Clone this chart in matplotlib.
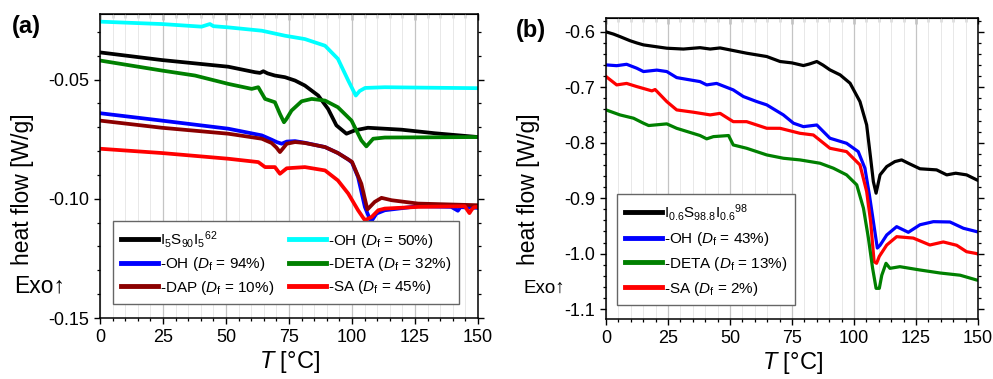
#!/usr/bin/env python3
"""DSC heat-flow curves, two panels: (a) I5S90I5 series, (b) I0.6S98.8I0.6 series."""

import matplotlib

matplotlib.use("Agg")

import matplotlib.pyplot as plt
from matplotlib.ticker import MultipleLocator

plt.rcParams["font.family"] = ["Liberation Sans", "DejaVu Sans"]
plt.rcParams["mathtext.fontset"] = "custom"
plt.rcParams["mathtext.rm"] = "Liberation Sans"
plt.rcParams["mathtext.it"] = "Liberation Sans:italic"
plt.rcParams["mathtext.bf"] = "Liberation Sans:bold"

# ---- panel (a) ----
A_T_BLACK = [0, 24.5, 50.9, 61.5, 63.5, 64.8, 66.5, 69.4, 73.4, 77.4, 81.3, 86.6, 90.5, 93.8,
             97.8, 101.1, 106.3, 119.6, 132.8, 150]
A_HF_BLACK = [-0.0386, -0.0418, -0.0446, -0.0469, -0.0472, -0.0465, -0.0474, -0.0483, -0.049,
              -0.0504, -0.0525, -0.0567, -0.0623, -0.0692, -0.0727, -0.0713, -0.0702, -0.071,
              -0.0725, -0.0741]

A_T_CYAN = [0, 24.5, 40.3, 43.6, 45, 50.9, 64.2, 73.4, 81.3, 89.3, 94.4, 98.5, 101.5, 103,
            105.2, 113, 130, 150]
A_HF_CYAN = [-0.0257, -0.0267, -0.0278, -0.0267, -0.0276, -0.0281, -0.0295, -0.0316, -0.033,
             -0.0358, -0.0413, -0.0504, -0.0567, -0.0548, -0.0535, -0.0532, -0.0534, -0.0536]

A_T_GREEN = [0, 24.5, 37.7, 50.9, 60.2, 62.8, 65.5, 69.4, 71.4, 73, 74, 76, 80, 84, 89.3, 94.4,
             99.8, 103.7, 105.7, 108.4, 113, 150]
A_HF_GREEN = [-0.042, -0.0462, -0.0483, -0.0518, -0.0539, -0.0532, -0.0581, -0.0595, -0.0644,
              -0.0679, -0.0665, -0.063, -0.0591, -0.0581, -0.0588, -0.0616, -0.0672, -0.0755,
              -0.078, -0.0748, -0.0743, -0.0741]

A_T_BLUE = [0, 24.5, 50.9, 64.2, 68.1, 70.1, 72.1, 74.1, 77.4, 81.3, 89.3, 94.4, 98.5, 100,
            102.4, 105.1, 107.5, 109.7, 113, 126.2, 139.4, 142, 143, 150]
A_HF_BLUE = [-0.0641, -0.0672, -0.0706, -0.0734, -0.0752, -0.0762, -0.0769, -0.076, -0.0758,
             -0.0765, -0.0783, -0.0808, -0.0835, -0.0848, -0.0909, -0.1034, -0.1097, -0.1062,
             -0.1048, -0.1031, -0.1034, -0.105, -0.1035, -0.1038]

A_T_BROWN = [0, 24.5, 50.9, 64.2, 68.1, 70, 71.4, 72.5, 74.1, 77.4, 81.3, 89.3, 94.4, 98.5, 100,
             103.7, 106.1, 109, 111.7, 115.7, 126.2, 150]
A_HF_BROWN = [-0.0672, -0.0702, -0.0727, -0.0748, -0.0766, -0.0785, -0.0804, -0.079, -0.0769,
              -0.0762, -0.0766, -0.0783, -0.0808, -0.0835, -0.0845, -0.0937, -0.1045, -0.1013,
              -0.0996, -0.1006, -0.102, -0.1027]

A_T_RED = [0, 24.5, 50.9, 62.8, 65.5, 69.4, 71.4, 74.1, 81.3, 89.3, 94.4, 98.5, 102.4, 105.1,
           107.8, 110.4, 113, 126.2, 144.7, 146.6, 147.5, 148.5, 150]
A_HF_RED = [-0.079, -0.0808, -0.0832, -0.0846, -0.0867, -0.0867, -0.0895, -0.0872, -0.0867,
            -0.0881, -0.0923, -0.0978, -0.1048, -0.109, -0.1076, -0.1048, -0.1041, -0.1034,
            -0.1031, -0.106, -0.1045, -0.1035, -0.1034]

A_LABELS = [
    r"I$_5$S$_{90}$I$_5$$^{62}$",
    r"-OH ($D_\mathrm{f}$ = 94%)",
    r"-DAP ($D_\mathrm{f}$ = 10%)",
    r"-OH ($D_\mathrm{f}$ = 50%)",
    r"-DETA ($D_\mathrm{f}$ = 32%)",
    r"-SA ($D_\mathrm{f}$ = 45%)",
]

# ---- panel (b) ----
B_T_BLACK = [0, 3, 5.6, 9.7, 12.4, 15.1, 19, 24.5, 31.2, 37.9, 42, 46, 51.3, 56.7, 64.8, 70.2,
             75, 79.6, 82, 85, 87.5, 90.3, 94.4, 98.4, 102.4, 105.1, 106.7, 107.8, 108.9, 110.5,
             113.2, 116.5, 119.2, 121.9, 126.6, 133.3, 137.4, 141, 145.4, 149.5, 150]
B_HF_BLACK = [-0.6, -0.604, -0.6085, -0.616, -0.62, -0.6235, -0.626, -0.6295, -0.631, -0.6285,
              -0.631, -0.629, -0.6337, -0.6385, -0.6445, -0.6535, -0.656, -0.6608, -0.658,
              -0.6535, -0.66, -0.6686, -0.6776, -0.6926, -0.7258, -0.7679, -0.828, -0.8702,
              -0.891, -0.858, -0.843, -0.834, -0.831, -0.837, -0.847, -0.849, -0.858, -0.855,
              -0.858, -0.867, -0.868]

B_T_BLUE = [0, 4.3, 8.3, 12.4, 15.1, 20.5, 24.5, 28.5, 33, 37.9, 40.6, 44.6, 51.3, 55.4, 60.8,
            64.8, 71.5, 75.6, 79.6, 85, 90.3, 97, 101.7, 104.4, 106.2, 107.8, 109.4, 110.5, 113.2,
            117.2, 121.9, 126.6, 132, 138.7, 144.1, 149.5, 150]
B_HF_BLUE = [-0.6596, -0.661, -0.6585, -0.6656, -0.6716, -0.669, -0.6716, -0.6825, -0.686,
             -0.6897, -0.6957, -0.693, -0.7047, -0.7167, -0.7258, -0.7317, -0.7498, -0.7648,
             -0.771, -0.768, -0.7919, -0.801, -0.816, -0.846, -0.894, -0.942, -0.99, -0.985,
             -0.9664, -0.9514, -0.9616, -0.948, -0.9424, -0.943, -0.9543, -0.9604, -0.961]

B_T_GREEN = [0, 5.6, 11.1, 15.1, 17.2, 24.5, 28.5, 37.9, 40.6, 43.3, 49.4, 51.3, 56.7, 64.8,
             71.5, 78.2, 86.3, 91.7, 97, 101.1, 103.8, 105.8, 107.5, 108.9, 110.2, 111.2, 112.9,
             114.5, 118.5, 126.6, 134.7, 142.8, 149.5, 150]
B_HF_GREEN = [-0.7408, -0.7498, -0.7558, -0.7648, -0.769, -0.766, -0.774, -0.787, -0.793,
              -0.789, -0.787, -0.804, -0.81, -0.822, -0.828, -0.831, -0.837, -0.846, -0.858,
              -0.876, -0.918, -0.972, -1.0266, -1.0627, -1.0627, -1.039, -1.0175, -1.0266,
              -1.0236, -1.0296, -1.035, -1.039, -1.0477, -1.048]

B_T_RED = [0, 4.3, 8.3, 12.4, 18.5, 19.8, 24.5, 28.5, 35.3, 42, 46, 51.3, 56.7, 64.8, 70.2,
           78.2, 83.6, 90.3, 97, 102.4, 105.1, 106.7, 108.1, 109.1, 110.2, 113.2, 117.2, 123.9,
           130.6, 136, 141.4, 145.4, 149.5, 150]
B_HF_RED = [-0.6806, -0.6957, -0.693, -0.6987, -0.7065, -0.704, -0.7258, -0.7408, -0.745,
            -0.7498, -0.747, -0.762, -0.762, -0.7739, -0.774, -0.783, -0.786, -0.81, -0.816,
            -0.84, -0.888, -0.942, -1.0146, -1.0175, -1.005, -0.9845, -0.9695, -0.972, -0.9845,
            -0.979, -0.985, -0.9966, -1.0, -1.001]

B_LABELS = [
    r"I$_{0.6}$S$_{98.8}$I$_{0.6}$$^{98}$",
    r"-OH ($D_\mathrm{f}$ = 43%)",
    r"-DETA ($D_\mathrm{f}$ = 13%)",
    r"-SA ($D_\mathrm{f}$ = 2%)",
]

BLACK = "#000000"
BLUE = "#0000ff"
BROWN = "#8b0000"
CYAN = "#00ffff"
GREEN = "#008000"
RED = "#ff0000"


def style_axes(ax, ylim, ymajor, yminor, yfmt):
    ax.set_xlim(0, 150)
    ax.set_ylim(*ylim)
    ax.xaxis.set_major_locator(MultipleLocator(25))
    ax.xaxis.set_minor_locator(MultipleLocator(5))
    ax.yaxis.set_major_locator(MultipleLocator(ymajor))
    ax.yaxis.set_minor_locator(MultipleLocator(yminor))
    ax.yaxis.set_major_formatter(plt.FuncFormatter(lambda v, p: yfmt.format(v).replace("\u2212", "-")))
    ax.grid(axis="x", which="major", color="#c4c4c4", linewidth=0.9)
    ax.grid(axis="x", which="minor", color="#e8e8e8", linewidth=0.7)
    ax.set_axisbelow(True)
    for spine in ax.spines.values():
        spine.set_linewidth(1.1)
    ax.tick_params(axis="both", which="major", direction="out", length=4.5, width=1.0,
                   labelsize=13, right=True)
    ax.tick_params(axis="both", which="minor", direction="out", length=2.5, width=0.9,
                   right=True)
    top = ax.secondary_xaxis("top")
    top.xaxis.set_major_locator(MultipleLocator(25))
    top.xaxis.set_minor_locator(MultipleLocator(5))
    top.tick_params(which="major", direction="in", length=4, width=1.0, labeltop=False)
    top.tick_params(which="minor", direction="in", length=3, width=0.9)
    ax.set_xlabel(r"$T$ [°C]", fontsize=17, labelpad=2)


def main():
    fig = plt.figure(figsize=(9.93, 3.79), dpi=100)

    # panel (a)
    ax_a = fig.add_axes([0.1007, 0.1609, 0.3807, 0.8021])
    lw = 2.7
    l_cyan, = ax_a.plot(A_T_CYAN, A_HF_CYAN, color=CYAN, lw=lw)
    l_black, = ax_a.plot(A_T_BLACK, A_HF_BLACK, color=BLACK, lw=lw)
    l_green, = ax_a.plot(A_T_GREEN, A_HF_GREEN, color=GREEN, lw=lw)
    l_blue, = ax_a.plot(A_T_BLUE, A_HF_BLUE, color=BLUE, lw=lw)
    l_brown, = ax_a.plot(A_T_BROWN, A_HF_BROWN, color=BROWN, lw=lw)
    l_red, = ax_a.plot(A_T_RED, A_HF_RED, color=RED, lw=lw)
    style_axes(ax_a, (-0.15, -0.0225), 0.05, 0.01, "{:.2f}")
    leg_a = ax_a.legend(
        [l_black, l_blue, l_brown, l_cyan, l_green, l_red], A_LABELS,
        ncol=2, loc="lower left", bbox_to_anchor=(0.015, 0.02), fontsize=11,
        handlelength=2.4, handletextpad=0.15, columnspacing=1.0, labelspacing=0.35,
        borderpad=0.5, fancybox=False, framealpha=1.0, edgecolor="#666666",
    )
    leg_a.get_frame().set_linewidth(1.0)
    for line in leg_a.get_lines():
        line.set_linewidth(3.5)

    fig.text(0.012, 0.96, "(a)", fontsize=17, fontweight="bold", ha="left", va="top")
    fig.text(0.023, 0.50, "heat flow [W/g]", fontsize=16.5, rotation=90, ha="center", va="center")
    fig.text(0.014, 0.245, "Exo\u2191", fontsize=16.5, ha="left", va="center")

    # panel (b)
    ax_b = fig.add_axes([0.6103, 0.1583, 0.3746, 0.7942])
    lw = 2.3
    m_black, = ax_b.plot(B_T_BLACK, B_HF_BLACK, color=BLACK, lw=lw)
    m_blue, = ax_b.plot(B_T_BLUE, B_HF_BLUE, color=BLUE, lw=lw)
    m_red, = ax_b.plot(B_T_RED, B_HF_RED, color=RED, lw=lw)
    m_green, = ax_b.plot(B_T_GREEN, B_HF_GREEN, color=GREEN, lw=lw)
    style_axes(ax_b, (-1.118, -0.575), 0.1, 0.02, "{:.1f}")
    leg_b = ax_b.legend(
        [m_black, m_blue, m_green, m_red], B_LABELS,
        loc="lower left", bbox_to_anchor=(0.01, 0.02), fontsize=11,
        handlelength=2.4, handletextpad=0.15, labelspacing=0.45,
        borderpad=0.5, fancybox=False, framealpha=1.0, edgecolor="#666666",
    )
    leg_b.get_frame().set_linewidth(1.0)
    for line in leg_b.get_lines():
        line.set_linewidth(3.5)

    fig.text(0.520, 0.95, "(b)", fontsize=17, fontweight="bold", ha="left", va="top")
    fig.text(0.5325, 0.50, "heat flow [W/g]", fontsize=16.5, rotation=90, ha="center", va="center")
    fig.text(0.527, 0.24, "Exo\u2191", fontsize=13.5, ha="left", va="center")

    fig.savefig("out.png", dpi=100, facecolor="white")
    plt.close(fig)


if __name__ == "__main__":
    main()
